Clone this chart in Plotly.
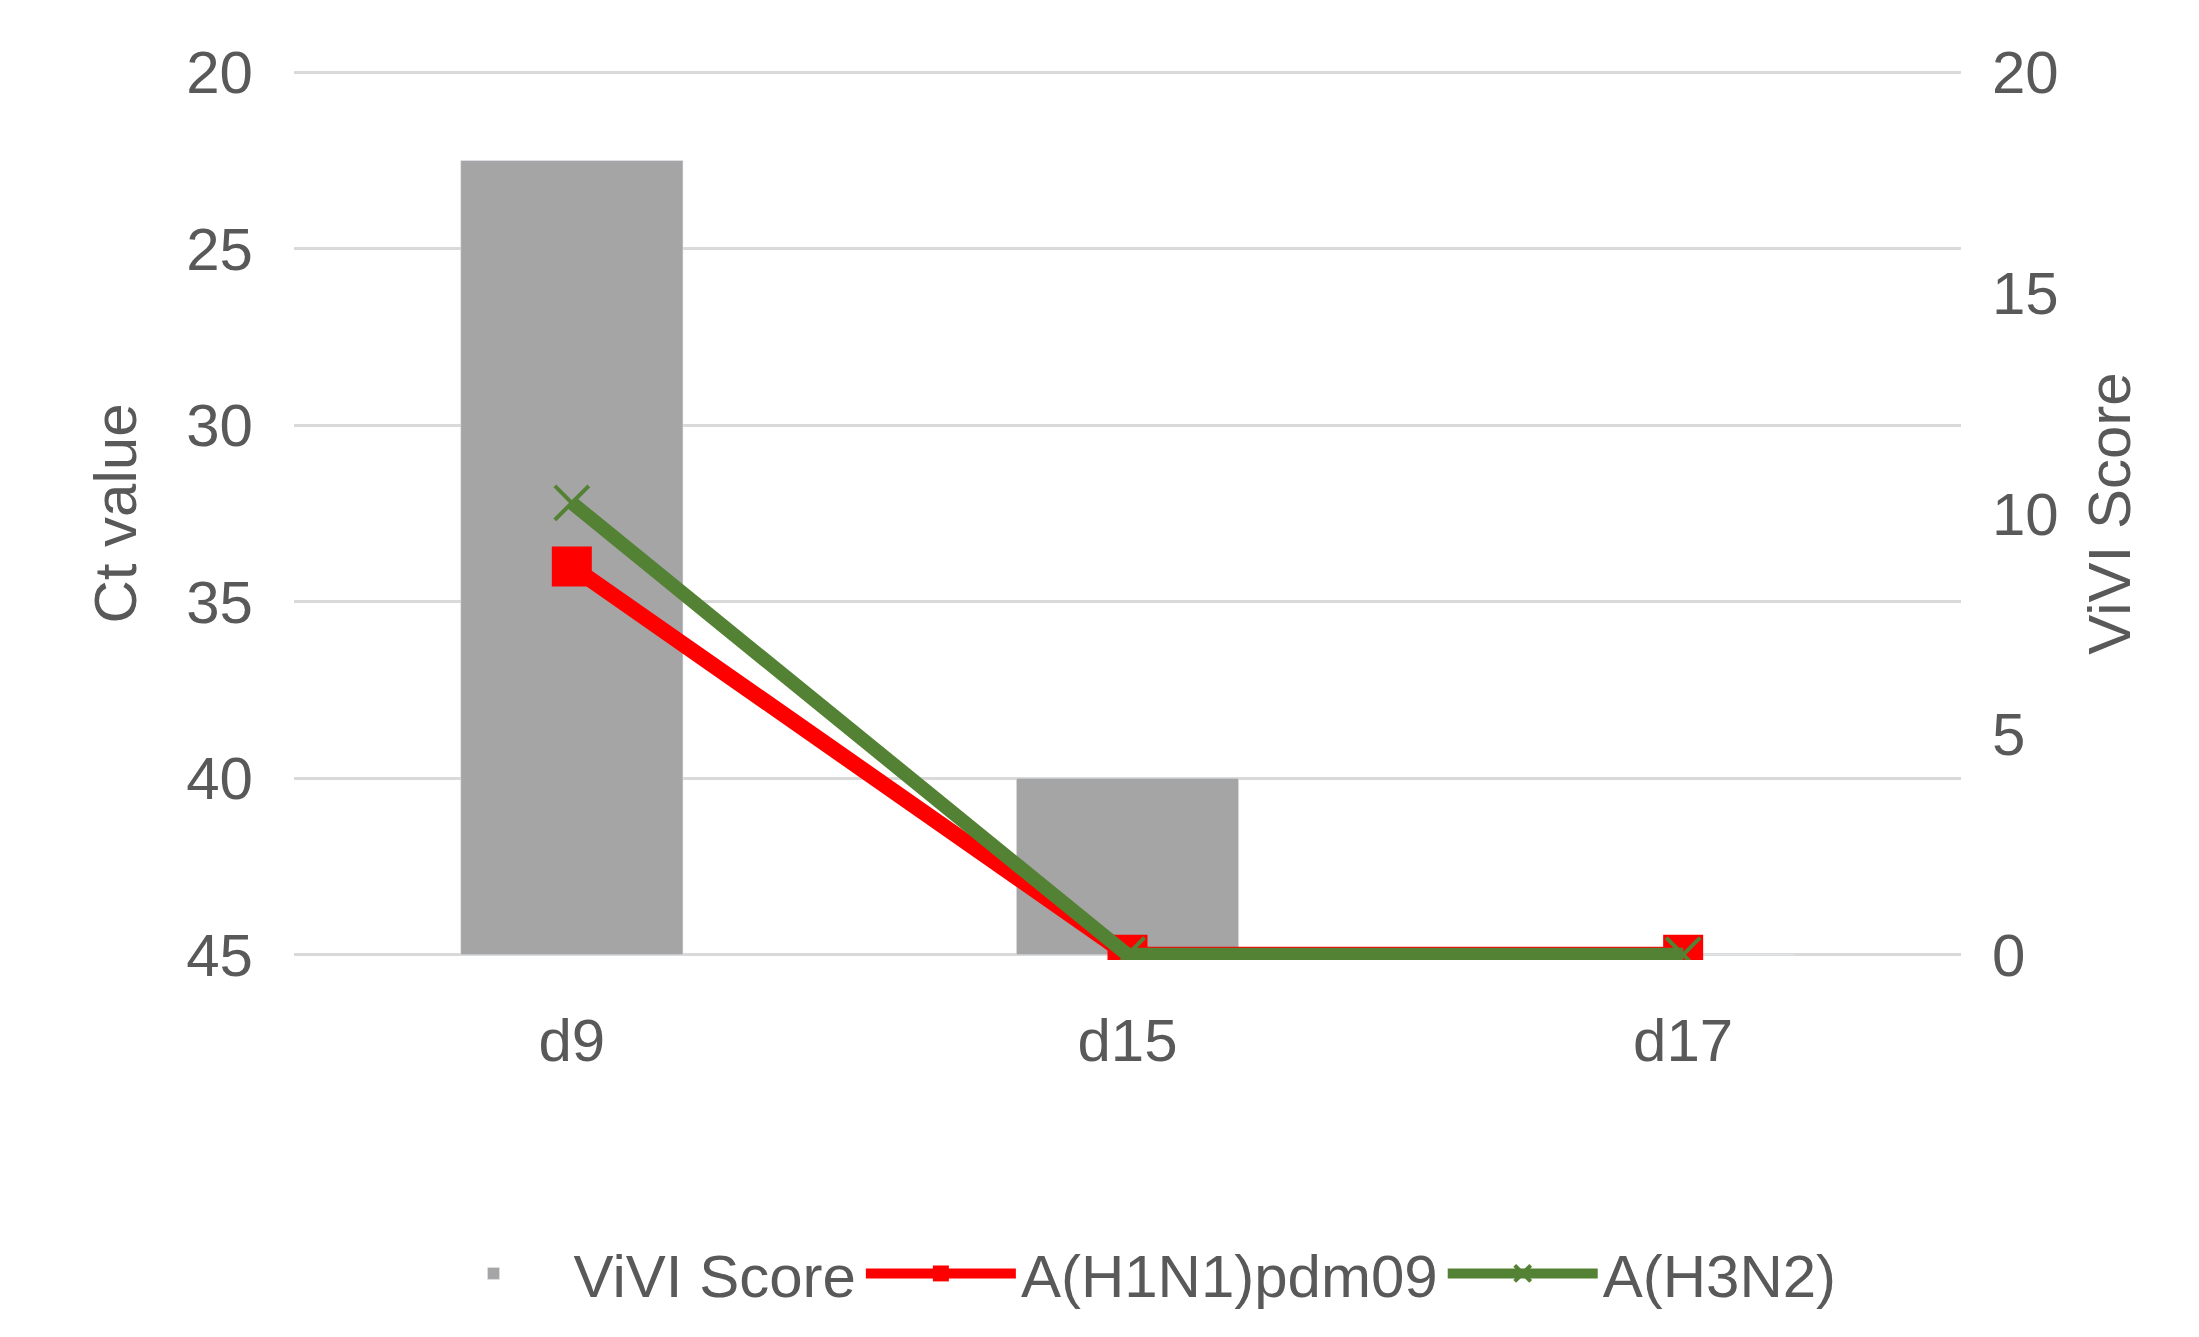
import plotly.graph_objects as go

days = ["d9", "d15", "d17"]
vivi = [18, 4, 0]
h1n1 = [34, 45, 45]
h3n2 = [32.2, 45, 45]

fig = go.Figure()
fig.add_trace(go.Bar(x=days, y=vivi, name="ViVI Score", marker_color="#a5a5a5", width=0.4, yaxis="y"))
fig.add_trace(go.Scatter(x=days, y=h1n1, name="A(H1N1)pdm09", mode="lines+markers",
                         line=dict(color="#ff0000", width=16), marker=dict(symbol="square", size=40, color="#ff0000"), yaxis="y2"))
fig.add_trace(go.Scatter(x=days, y=h3n2, name="A(H3N2)", mode="lines+markers",
                         line=dict(color="#548235", width=14), marker=dict(symbol="x-thin", size=34, line=dict(color="#548235", width=4)), yaxis="y2"))

font = dict(family="Liberation Sans, Arial", size=60, color="#595959")
fig.update_layout(
    width=2199, height=1337, paper_bgcolor="white", plot_bgcolor="white",
    margin=dict(l=286, r=246, t=59, b=385), font=font,
    xaxis=dict(showgrid=False, showline=False, ticks="", tickfont=font, ticklabelstandoff=40),
    yaxis=dict(side="right", range=[-0.12, 20.12], dtick=5, showgrid=False, zeroline=False,
               title=dict(text="ViVI Score", font=font, standoff=30), tickfont=font, ticklabelstandoff=30),
    yaxis2=dict(overlaying="y", side="left", range=[45.15, 19.85], dtick=5, showgrid=True,
                gridcolor="#d9d9d9", gridwidth=3, zeroline=False,
                title=dict(text="Ct value", font=font, standoff=30), tickfont=font, ticklabelstandoff=40),
    legend=dict(orientation="h", x=0.5, xanchor="center", y=-0.3, yanchor="top", font=font,
                itemwidth=150, entrywidth=0, traceorder="normal"),
)
fig.write_html("out.html")
